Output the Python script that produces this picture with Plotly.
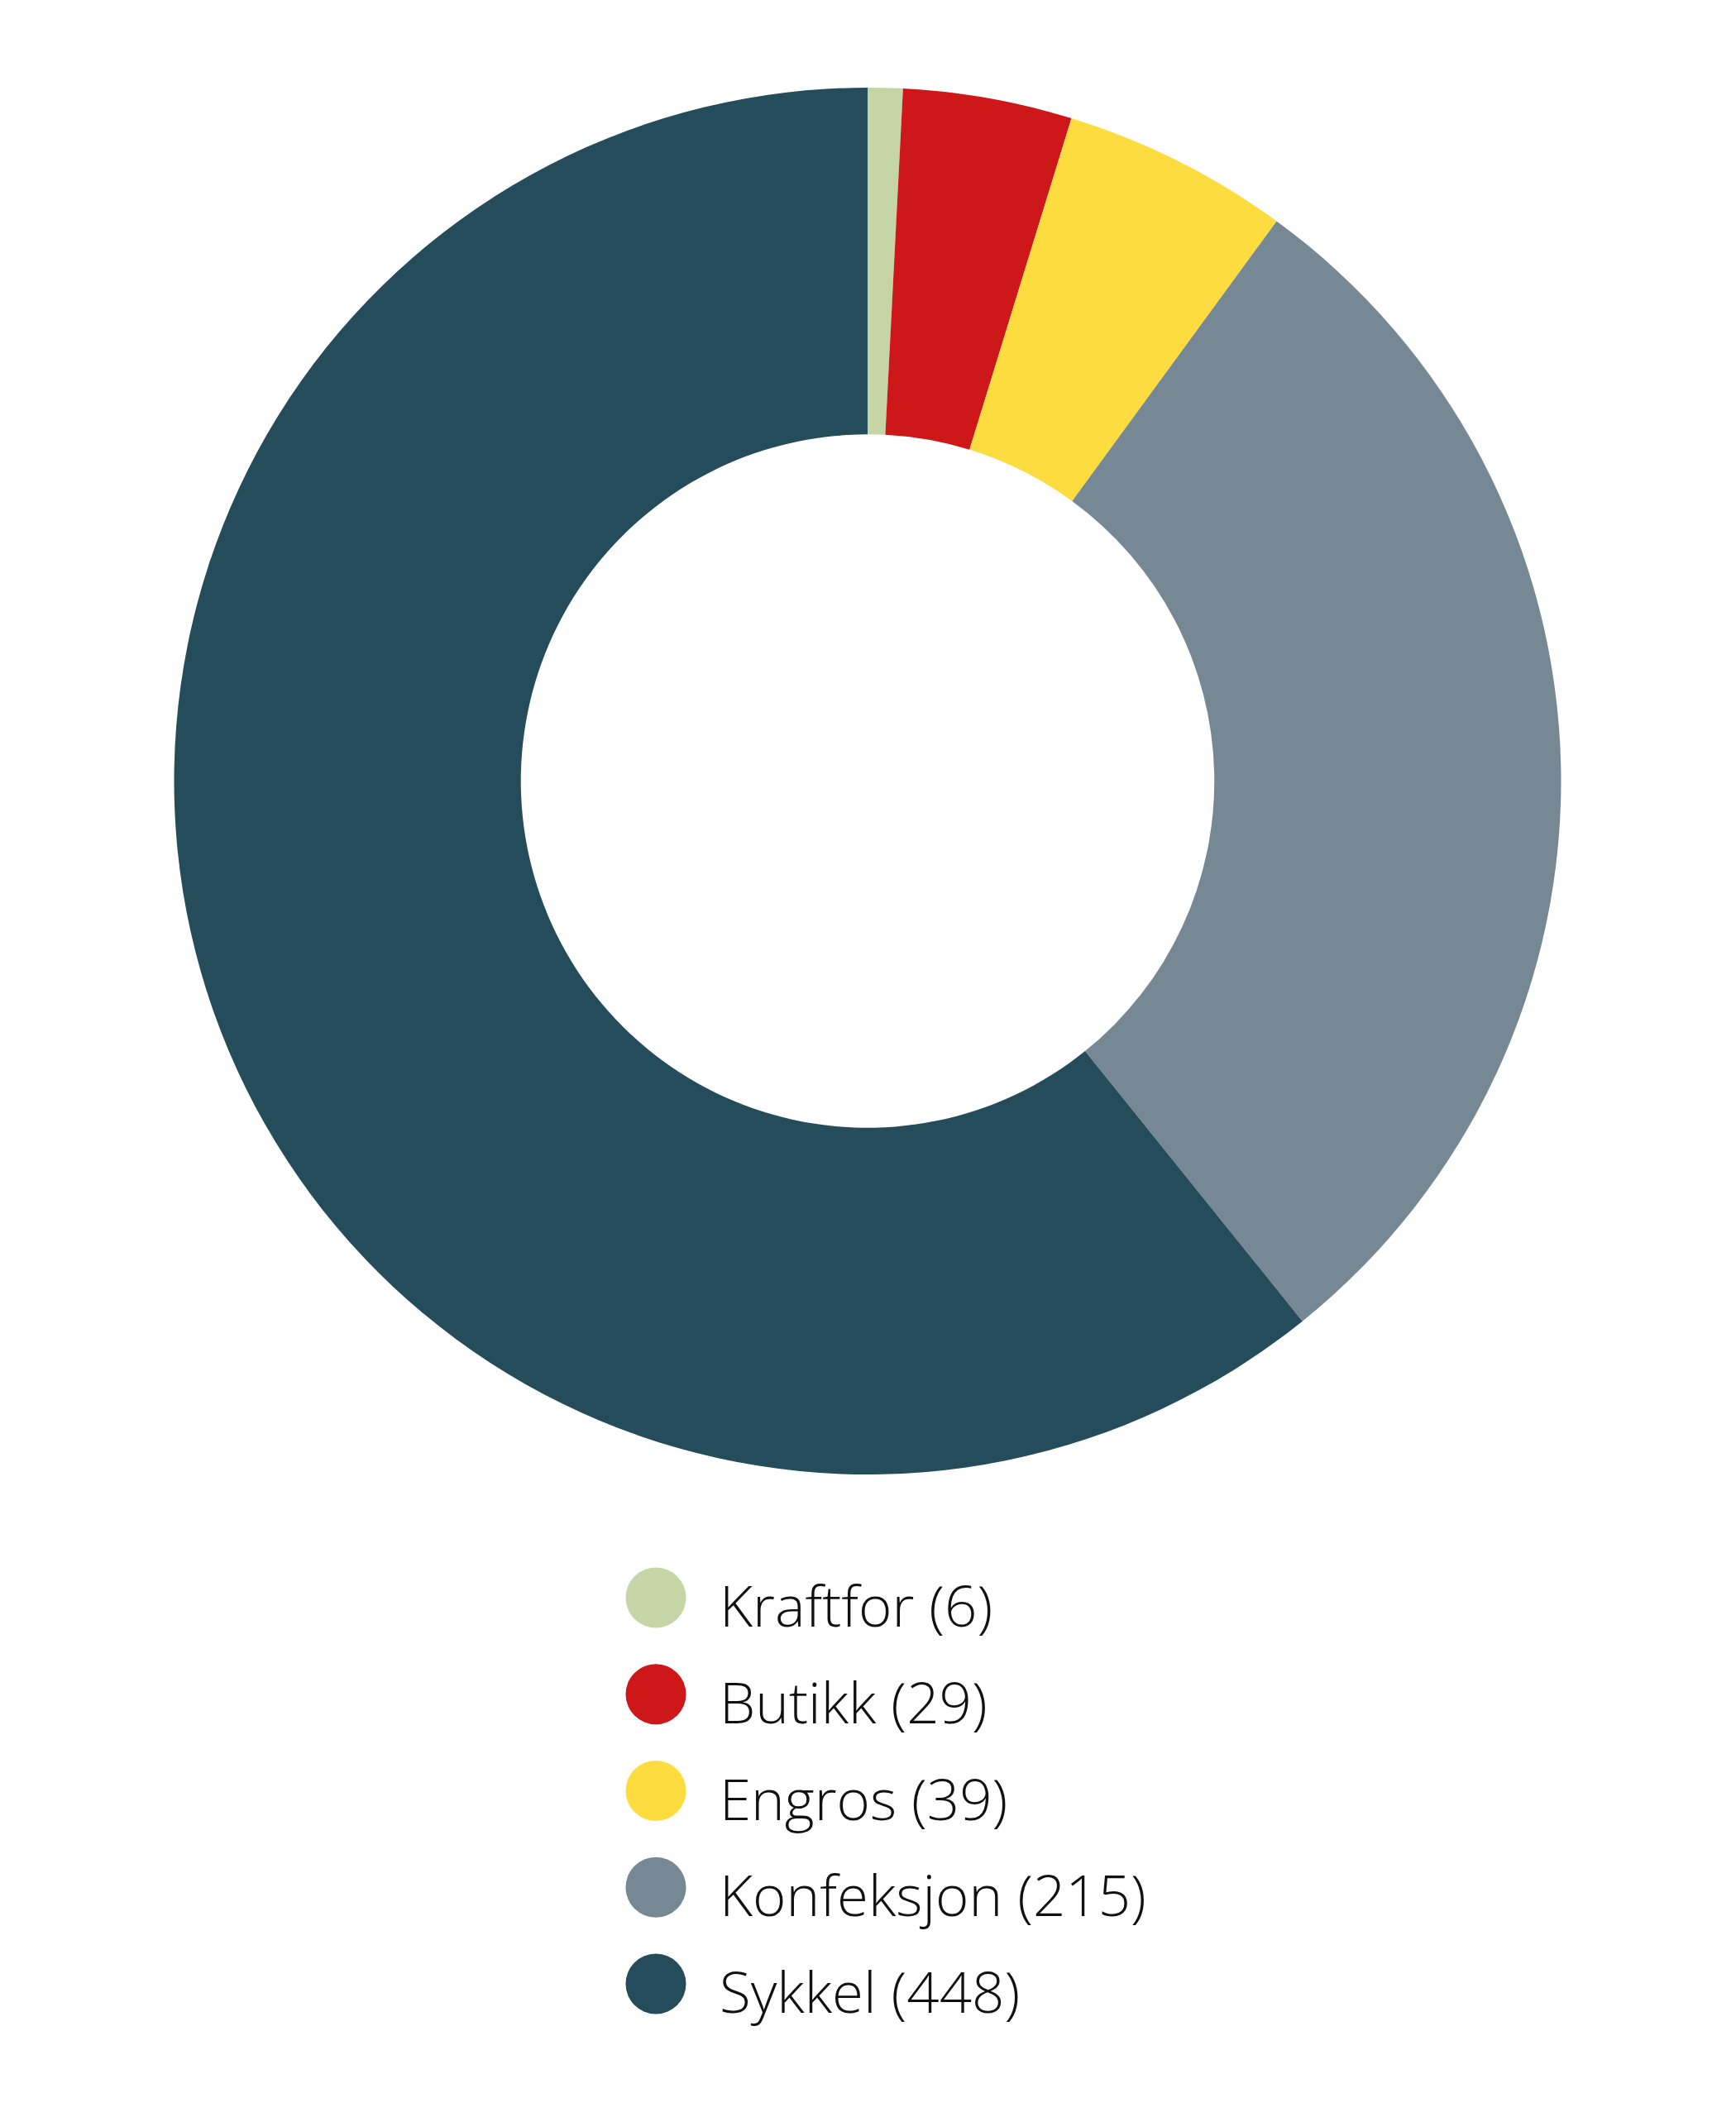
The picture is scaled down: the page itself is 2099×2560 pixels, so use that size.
import plotly.graph_objects as go

categories = ["Kraftfor", "Butikk", "Engros", "Konfeksjon", "Sykkel"]
values = [6, 29, 39, 215, 448]
colors = ["#C5D5A5", "#CD1719", "#FDDC3F", "#778895", "#254C5B"]

W, H = 2099, 2560
OFF = 8  # page body margin
cx, cy, r = 1049 - OFF, 944.5 - OFF, 838.5

fig = go.Figure()
fig.add_trace(go.Pie(
    labels=categories, values=values, hole=0.5, sort=False,
    direction="clockwise", rotation=0,
    marker=dict(colors=colors, line=dict(width=0)),
    textinfo="none", hoverinfo="label+value", showlegend=False,
    domain=dict(x=[(cx - r) / W, (cx + r) / W],
                y=[(H - cy - r) / H, (H - cy + r) / H]),
))

idx = list(range(len(categories)))
legend_labels = [f"{c} ({v})" for c, v in zip(categories, values)]

# legend rows: first row centre at 1932px from top, spacing 116.75px
row0, step = 1932.0 - OFF, 116.75
r0 = (H - row0) / step
r1 = r0 - H / step

fig.add_trace(go.Scatter(
    x=[793 - OFF] * len(idx), y=idx, mode="markers",
    marker=dict(size=73, color=colors, symbol="circle", line=dict(width=0)),
    hoverinfo="skip", showlegend=False,
))

for i, lab in zip(idx, legend_labels):
    fig.add_annotation(
        x=872 - OFF - 4, y=i, xref="x", yref="y", text=lab, showarrow=False,
        xanchor="left", yanchor="middle", yshift=-8,
        font=dict(family="Open Sans", size=69, color="#111111", weight=300),
    )

fig.update_layout(
    width=W, height=H, margin=dict(l=0, r=0, t=0, b=0),
    paper_bgcolor="white", plot_bgcolor="rgba(0,0,0,0)",
    showlegend=False,
    xaxis=dict(range=[0, W], visible=False, domain=[0, 1], fixedrange=True),
    yaxis=dict(range=[r0, r1], visible=False, domain=[0, 1], fixedrange=True),
)

fig.write_html("out.html")
